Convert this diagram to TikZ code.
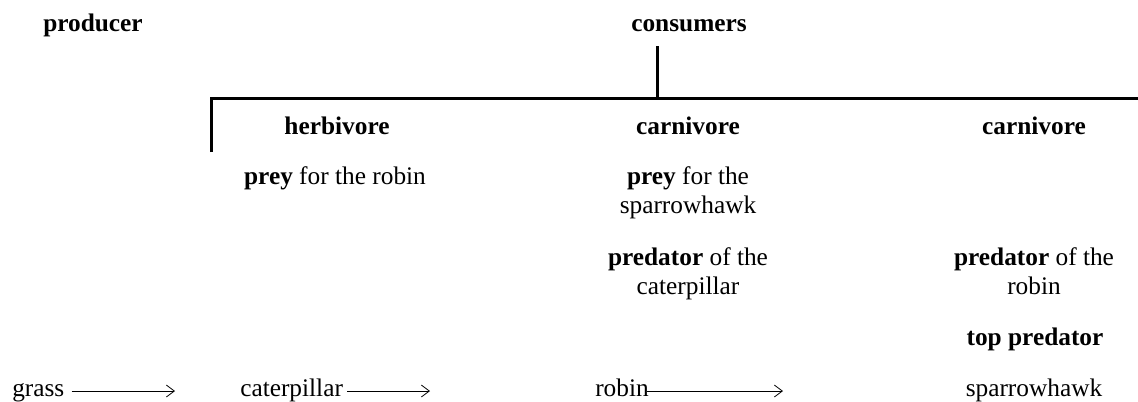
\documentclass[tikz,border=0pt]{standalone}
\usepackage{fontspec}
\setmainfont{Liberation Serif}
\usetikzlibrary{arrows.meta,calc}
\begin{document}
\begin{tikzpicture}[x=0.75pt,y=-0.75pt,
  txt/.style={inner sep=0pt,anchor=base,font=\fontsize{19}{22}\selectfont},
  hd/.style={txt,font=\fontsize{19}{22}\selectfont\bfseries},
  bar/.style={line width=2.25pt,line join=miter},
  arr/.style={line width=0.6pt,-{Straight Barb[length=6pt,width=9pt,line width=0.6pt]}}]
\useasboundingbox (0,0) rectangle (1138,401);
% headings
\node[hd] (producer) at (93,31) {producer};
\node[hd] (consumers) at (689,31) {consumers};
\node[hd] (herb) at (337,134) {herbivore};
\node[hd] (carn1) at (688,134) {carnivore};
\node[hd] (carn2) at (1034,134) {carnivore};
% bracket
\coordinate (ctop) at (657,46);
\coordinate (cmid) at (657,98);
\coordinate (lft) at (211,98);
\coordinate (lbot) at (211,152);
\coordinate (rgt) at (1138,98);
\draw[bar] (ctop) -- (cmid);
\draw[bar] (lbot) -- (lft) -- (rgt);
% descriptions
\node[txt] (d1) at (335,184) {\textbf{prey} for the robin};
\node[txt] (d2a) at (688,184) {\textbf{prey} for the};
\node[txt] (d2b) at (688,213) {sparrowhawk};
\node[txt] (d3a) at (688,265) {\textbf{predator} of the};
\node[txt] (d3b) at (688,294) {caterpillar};
\node[txt] (d4a) at (1034,265) {\textbf{predator} of the};
\node[txt] (d4b) at (1034,294) {robin};
\node[hd] (top) at (1035,345) {top predator};
% chain
\node[txt,anchor=base west] (grass) at (12,396) {grass};
\node[txt,anchor=base west] (cat) at (240,396) {caterpillar};
\node[txt,anchor=base west] (robin) at (595,396) {robin};
\node[txt] (hawk) at (1034,396) {sparrowhawk};
\coordinate (e1) at (175,391);
\coordinate (e2) at (430,391);
\coordinate (e3) at (783,391);
\draw[arr] ($(grass.base east)+(7,-5)$) -- (e1);
\draw[arr] ($(cat.base east)+(4,-5)$) -- (e2);
\draw[arr] ($(robin.base east)+(-2,-5)$) -- (e3);
\end{tikzpicture}
\end{document}
